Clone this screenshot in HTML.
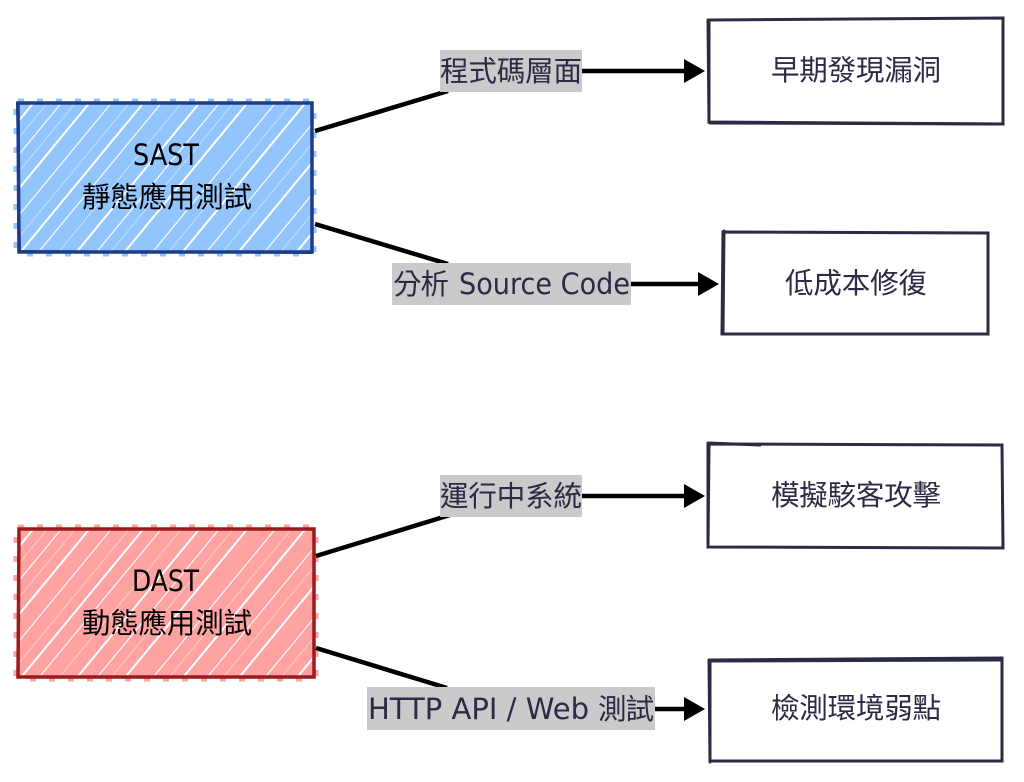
<!DOCTYPE html>
<html><head><meta charset="utf-8"><style>
html,body{margin:0;padding:0;background:#fff}
svg{display:block}
.c{font-family:"Noto Sans CJK TC","Noto Sans CJK SC",sans-serif;font-size:28.5px;fill:#2b2b45}
.l{font-family:"DejaVu Sans","Liberation Sans",sans-serif;font-size:29px;fill:#2b2b45}
.k{fill:#000}
</style></head><body>
<svg xmlns="http://www.w3.org/2000/svg" width="1024" height="782" viewBox="0 0 1024 782">
<defs>
<clipPath id="cb"><rect x="18" y="103" width="294" height="149"/></clipPath>
<clipPath id="cr"><rect x="18" y="529" width="296" height="148"/></clipPath>
</defs>
<rect width="1024" height="782" fill="#fff"/>

<!-- SAST -->
<rect x="18" y="103" width="294" height="149" fill="#93c5fd" stroke="#93c5fd" stroke-width="9" stroke-dasharray="6 13"/>
<g clip-path="url(#cb)" stroke="#fff" fill="none">
<path stroke-width="2" d="M-96 260l136-165M-40 260l136-165M14 260l136-165M70 260l136-165M118 260l136-165M176 260l136-165M232 260l136-165M290 260l136-165"/>
<path stroke-width="1.1" d="M-110 260l136-165M-68 260l136-165M-18 260l136-165M32 260l136-165M90 260l136-165M146 260l136-165M200 260l136-165M258 260l136-165"/>
<path stroke-width="0.7" stroke-opacity=".6" d="M-82 260l136-165M-54 260l136-165M0 260l136-165M52 260l136-165M104 260l136-165M162 260l136-165M216 260l136-165M274 260l136-165"/>
</g>
<path d="M18 103H312V252H19Z" fill="none" stroke="#1e3a8a" stroke-width="3.5"/>
<path d="M17 102L20 252M18 251L312 253" fill="none" stroke="#1e3a8a" stroke-width="2"/>
<text class="l k" x="133" y="165" textLength="66" lengthAdjust="spacingAndGlyphs">SAST</text>
<text class="c k" x="82" y="207" textLength="170">靜態應用測試</text>

<!-- DAST -->
<rect x="18" y="529" width="296" height="148" fill="#ffa2a2" stroke="#ffa2a2" stroke-width="9" stroke-dasharray="6 13"/>
<g clip-path="url(#cr)" stroke="#fff" fill="none">
<path stroke-width="2" d="M-96 686l136-165M-40 686l136-165M14 686l136-165M70 686l136-165M118 686l136-165M176 686l136-165M232 686l136-165M290 686l136-165"/>
<path stroke-width="1.1" d="M-110 686l136-165M-68 686l136-165M-18 686l136-165M32 686l136-165M90 686l136-165M146 686l136-165M200 686l136-165M258 686l136-165"/>
<path stroke-width="0.7" stroke-opacity=".6" d="M-82 686l136-165M-54 686l136-165M0 686l136-165M52 686l136-165M104 686l136-165M162 686l136-165M216 686l136-165M274 686l136-165"/>
</g>
<path d="M19 529H314V677H18Z" fill="none" stroke="#991b1b" stroke-width="3.5"/>
<text class="l k" x="132" y="591" textLength="67" lengthAdjust="spacingAndGlyphs">DAST</text>
<text class="c k" x="82" y="633" textLength="170">動態應用測試</text>

<!-- connectors -->
<g stroke="#000" stroke-width="4.5" fill="none">
<path d="M315 131L448 91"/>
<path d="M315 224L448 264"/>
<path d="M316 556L450 515"/>
<path d="M316 648L447 688"/>
<path d="M582 71H686"/>
<path d="M631 284H700"/>
<path d="M582 496L686 496"/>
<path d="M655 709H686"/>
</g>
<path d="M684 59L705 71L684 83Z M698 272L719 284L698 296Z M684 484L705 496L684 508Z M684 697L705 709L684 721Z" fill="#000"/>

<!-- labels -->
<rect x="440" y="50" width="142" height="42" fill="#cacaca"/>
<rect x="392" y="263" width="239" height="42" fill="#cacaca"/>
<rect x="440" y="475" width="142" height="42" fill="#cacaca"/>
<rect x="367" y="687" width="288" height="43" fill="#cacaca"/>
<text class="c" x="440" y="81" textLength="142">程式碼層面</text>
<text class="c" x="393" y="294" textLength="56">分析</text>
<text class="l" x="459" y="294" textLength="171" lengthAdjust="spacingAndGlyphs">Source Code</text>
<text class="c" x="440" y="506" textLength="142">運行中系統</text>
<text class="l" x="368" y="719" textLength="221" lengthAdjust="spacingAndGlyphs">HTTP API / Web</text>
<text class="c" x="598" y="719" textLength="56">測試</text>

<!-- right boxes -->
<g fill="none" stroke="#2b2b45" stroke-width="3" stroke-linecap="round">
<path d="M709 20L1003 18L1003 124L709 122Z"/>
<path d="M710 123L1002 124M708 20L709 122"/>
<path d="M723 232L988 233L988 334L722 334Z"/>
<path d="M724 231L723 334"/>
<path d="M708 444L1002 445L1003 548L708 547Z"/>
<path d="M709 444L708 547M708 443L760 445"/>
<path d="M710 660L1002 658L1002 761L710 761Z"/>
<path d="M710 661L1002 660M709 660L710 762"/>
</g>
<text class="c" x="771" y="80" textLength="170">早期發現漏洞</text>
<text class="c" x="785" y="293" textLength="142">低成本修復</text>
<text class="c" x="771" y="505" textLength="170">模擬駭客攻擊</text>
<text class="c" x="771" y="718" textLength="170">檢測環境弱點</text>
</svg>
</body></html>
